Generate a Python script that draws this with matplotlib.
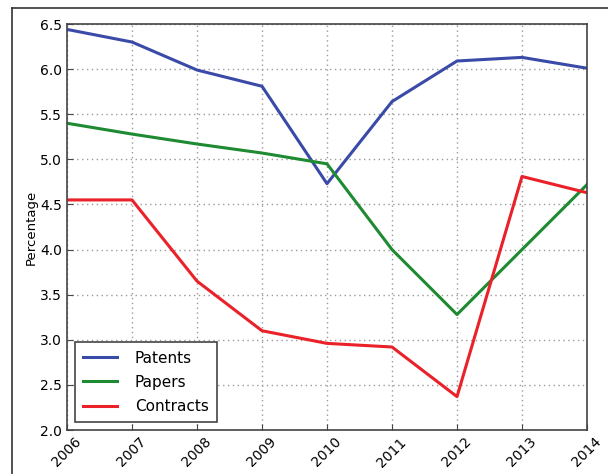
import matplotlib
matplotlib.use("Agg")
import matplotlib.pyplot as plt
from matplotlib.lines import Line2D

years = [2006, 2007, 2008, 2009, 2010, 2011, 2012, 2013, 2014]
patents = [6.44, 6.30, 5.99, 5.81, 4.73, 5.64, 6.09, 6.13, 6.01]
papers = [5.40, 5.28, 5.17, 5.07, 4.95, 4.00, 3.28, 4.00, 4.72]
contracts = [4.55, 4.55, 3.65, 3.10, 2.96, 2.92, 2.37, 4.81, 4.63]
yticks = [2.0, 2.5, 3.0, 3.5, 4.0, 4.5, 5.0, 5.5, 6.0, 6.5]

fig = plt.figure(figsize=(6.08, 4.74), dpi=100)
W, H = 608, 474
ax = fig.add_axes([67 / W, 1 - 430 / H, (587 - 67) / W, (430 - 24) / H])

ax.plot(years, patents, color="#3a4aa8", lw=2.2, label="Patents")
ax.plot(years, papers, color="#1e8a32", lw=2.2, label="Papers")
ax.plot(years, contracts, color="#ea2128", lw=2.2, label="Contracts")

ax.set_xlim(2006, 2014)
ax.set_ylim(2.0, 6.5)
ax.set_xticks(years)
ax.set_xticklabels([str(y) for y in years], rotation=45, ha="center", fontsize=10)
ax.set_yticks(yticks)
ax.set_yticklabels([f"{v:.1f}" for v in yticks], fontsize=10)
ax.set_ylabel("Percentage", fontsize=9.5, labelpad=2)
ax.grid(True, color="#999999", linestyle=(0, (1, 2.5)), lw=1)
ax.tick_params(direction="in", length=4, color="#444444")
for s in ax.spines.values():
    s.set_color("#444444")
    s.set_linewidth(1.2)

leg = ax.legend(loc="lower left", fontsize=11, fancybox=False,
                framealpha=1, edgecolor="#444444", borderpad=0.55,
                handlelength=2.2, handletextpad=1.2, labelspacing=0.6)
leg.get_frame().set_linewidth(1.2)

fig.add_artist(Line2D([12 / W, 1], [1 - 8 / H, 1 - 8 / H], color="#333333", lw=1.2))
fig.add_artist(Line2D([12 / W, 12 / W], [0, 1 - 8 / H], color="#333333", lw=1.2))

fig.savefig("out.png", dpi=100)
